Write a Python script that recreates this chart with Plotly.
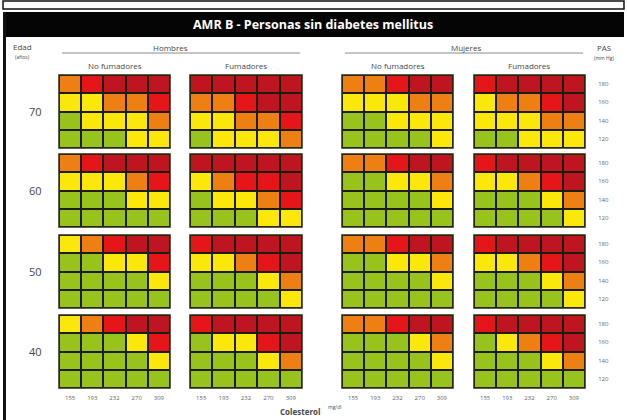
import plotly.graph_objects as go

# ---------------- data ----------------
colesterol_labels = ["155", "193", "232", "270", "309"]
pas_labels = ["180", "160", "140", "120"]          # top -> bottom
edades = ["70", "60", "50", "40"]                   # top -> bottom
grupos = ["Hombres · No fumadores", "Hombres · Fumadores",
          "Mujeres · No fumadores", "Mujeres · Fumadores"]
niveles = ["<10%", "10-<20%", "20-<30%", "30-<40%", ">=40%"]

# risk level (0 green, 1 yellow, 2 orange, 3 red, 4 dark red); rows PAS 180..120
hombres_no_fumadores = [
    [[2, 3, 4, 4, 4], [1, 1, 2, 2, 3], [0, 1, 1, 1, 2], [0, 0, 0, 1, 1]],   # 70
    [[2, 3, 4, 4, 4], [1, 1, 1, 2, 3], [0, 0, 0, 1, 1], [0, 0, 0, 0, 0]],   # 60
    [[1, 2, 3, 4, 4], [0, 0, 1, 1, 3], [0, 0, 0, 0, 1], [0, 0, 0, 0, 0]],   # 50
    [[1, 2, 3, 4, 4], [0, 0, 0, 1, 3], [0, 0, 0, 0, 1], [0, 0, 0, 0, 0]],   # 40
]
hombres_fumadores = [
    [[4, 4, 4, 4, 4], [2, 2, 3, 4, 4], [1, 1, 2, 2, 3], [0, 1, 1, 1, 2]],
    [[4, 4, 4, 4, 4], [1, 2, 3, 3, 4], [0, 1, 1, 2, 3], [0, 0, 0, 1, 1]],
    [[3, 4, 4, 4, 4], [1, 1, 2, 3, 4], [0, 0, 0, 1, 2], [0, 0, 0, 0, 1]],
    [[3, 4, 4, 4, 4], [0, 1, 1, 3, 4], [0, 0, 0, 1, 2], [0, 0, 0, 0, 0]],
]
mujeres_no_fumadoras = [
    [[2, 2, 3, 4, 4], [1, 1, 1, 2, 2], [0, 0, 1, 1, 1], [0, 0, 0, 0, 1]],
    [[2, 2, 3, 4, 4], [0, 0, 1, 1, 2], [0, 0, 0, 0, 1], [0, 0, 0, 0, 0]],
    [[2, 2, 3, 4, 4], [0, 0, 1, 1, 2], [0, 0, 0, 0, 1], [0, 0, 0, 0, 0]],
    [[2, 2, 3, 4, 4], [0, 0, 0, 1, 2], [0, 0, 0, 0, 1], [0, 0, 0, 0, 0]],
]
mujeres_fumadoras = [
    [[3, 4, 4, 4, 4], [1, 2, 2, 3, 4], [1, 1, 1, 2, 2], [0, 0, 1, 1, 1]],
    [[3, 4, 4, 4, 4], [1, 1, 2, 3, 4], [0, 0, 0, 1, 2], [0, 0, 0, 0, 1]],
    [[3, 4, 4, 4, 4], [1, 1, 2, 3, 4], [0, 0, 0, 1, 2], [0, 0, 0, 0, 1]],
    [[3, 4, 4, 4, 4], [0, 1, 2, 3, 4], [0, 0, 0, 1, 2], [0, 0, 0, 0, 0]],
]
grupos_datos = [hombres_no_fumadores, hombres_fumadores,
                mujeres_no_fumadoras, mujeres_fumadoras]

# ---------------- style / layout ----------------
W, H = 627, 420
colores = ["#98c21c", "#fbe80a", "#ee7f12", "#e5161a", "#bf1520"]
cs = []
for i, c in enumerate(colores):
    cs.append([i / 5, c])
    cs.append([(i + 1) / 5, c])

col_px = [(59, 170), (190, 302), (342, 453), (474, 585)]
row_px = [(75, 148), (154, 227), (235, 308), (315, 388)]

def px(x):
    return x / W

def py(y):
    return 1 - y / H

FONT = "Open Sans"
TXT = "#474747"

fig = go.Figure()
layout_axes = {}
shapes = []
k = 0
for r in range(4):
    for c in range(4):
        k += 1
        xa = "x" if k == 1 else f"x{k}"
        ya = "y" if k == 1 else f"y{k}"
        fig.add_trace(go.Heatmap(
            z=grupos_datos[c][r], x=colesterol_labels, y=pas_labels,
            xaxis=xa, yaxis=ya, colorscale=cs, zmin=-0.5, zmax=4.5,
            showscale=False, xgap=2, ygap=2,
            hovertemplate=f"{grupos[c]}<br>Edad {edades[r]}<br>PAS %{{y}}<br>Colesterol %{{x}}<extra></extra>",
        ))
        xk = "xaxis" if k == 1 else f"xaxis{k}"
        yk = "yaxis" if k == 1 else f"yaxis{k}"
        layout_axes[xk] = dict(
            domain=[px(col_px[c][0]), px(col_px[c][1])], anchor=ya,
            showgrid=False, zeroline=False, fixedrange=True,
            showticklabels=(r == 3), ticks="outside" if r == 3 else "",
            ticklen=4, tickcolor="rgba(0,0,0,0)",
            tickfont=dict(family=FONT, size=6, color="#666"),
            type="category", showline=False,
        )
        layout_axes[yk] = dict(
            domain=[py(row_px[r][1]), py(row_px[r][0])], anchor=xa,
            showgrid=False, zeroline=False, fixedrange=True,
            autorange="reversed", type="category",
            side="right",
            showticklabels=(c == 3), ticks="outside" if c == 3 else "",
            ticklen=11, tickcolor="rgba(0,0,0,0)",
            tickfont=dict(family=FONT, size=6, color="#666"),
            showline=False,
        )
        shapes.append(dict(type="rect", xref=f"{xa} domain", yref=f"{ya} domain",
                           x0=0, x1=1, y0=0, y1=1,
                           line=dict(color="#2a2a10", width=1.5)))

# frame and header
shapes += [
    dict(type="rect", xref="paper", yref="paper", x0=px(3), x1=px(624),
         y0=py(9), y1=py(1), line=dict(color="#111", width=1.5), fillcolor="white"),
    dict(type="rect", xref="paper", yref="paper", x0=px(3), x1=px(624),
         y0=py(37), y1=py(12), line=dict(width=0), fillcolor="#050505"),
    dict(type="line", xref="paper", yref="paper", x0=px(4.5), x1=px(4.5),
         y0=0, y1=py(12), line=dict(color="#111", width=3)),
    # group underlines
    dict(type="line", xref="paper", yref="paper", x0=px(62), x1=px(300),
         y0=py(53), y1=py(53), line=dict(color="#8a8a8a", width=1)),
    dict(type="line", xref="paper", yref="paper", x0=px(345), x1=px(583),
         y0=py(53), y1=py(53), line=dict(color="#8a8a8a", width=1)),
]

ann = []
def text(x, y, s, size, color=TXT, bold=False, xanchor="center", fam=FONT):
    if bold:
        s = f"<b>{s}</b>"
    ann.append(dict(x=px(x), y=py(y), xref="paper", yref="paper", text=s,
                    showarrow=False, xanchor=xanchor, yanchor="middle",
                    font=dict(family=fam, size=size, color=color)))

text(313, 24.5, "AMR B - Personas sin diabetes mellitus", 12.5, color="white", bold=True)
text(22, 46, "Edad", 8)
text(22, 57, "(años)", 5)
text(170, 47, "Hombres", 8)
text(466, 47, "Mujeres", 8)
text(115, 65, "No fumadores", 8)
text(246, 65, "Fumadores", 8)
text(398, 65, "No fumadores", 8)
text(529, 65, "Fumadores", 8)
text(604, 47, "PAS", 8)
text(604, 58, "(mm Hg)", 5)
for r, e in enumerate(edades):
    text(35, (row_px[r][0] + row_px[r][1]) / 2, e, 11)
text(300, 411, "Colesterol", 8, bold=True)
text(326, 407, "mg/dl", 5, xanchor="left")

fig.update_layout(
    width=W, height=H, margin=dict(l=0, r=0, t=0, b=0),
    paper_bgcolor="white", plot_bgcolor="#1c1c0c",
    shapes=shapes, annotations=ann, showlegend=False,
    **layout_axes,
)
fig.write_html("out.html", config={"displayModeBar": False},
               post_script="document.body.style.margin='0';")
